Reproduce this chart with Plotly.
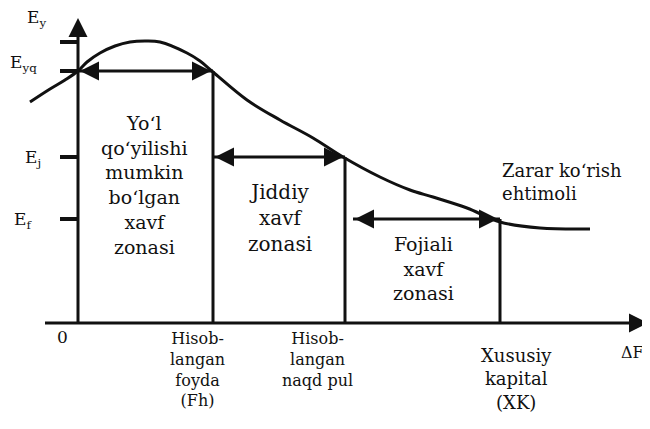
import plotly.graph_objects as go

# risk curve: x = capital change (dF), y = loss probability level
curve_x = [-48, -28, -13, 0, 9, 22, 37, 52, 67, 82, 109, 122, 135, 169, 202, 235,
           265, 302, 332, 355, 389, 422, 462, 512]
curve_y = [221, 234, 243, 252, 261, 270, 277, 281, 282, 281, 270, 262, 251, 223, 203,
           185, 166, 146, 133, 126, 115, 101, 95, 94]

# levels on the vertical axis
e_names = ["E<sub>y</sub>", "E<sub>yq</sub>", "E<sub>j</sub>", "E<sub>f</sub>"]
e_levels = [281, 252, 166, 104]

# points on the horizontal axis
f_points = [135, 267, 422]
f_labels = ["Hisob-<br>langan<br>foyda<br>(Fh)", "Hisob-<br>langan<br>naqd pul",
            "Xususiy<br>kapital<br>(XK)"]

zone_labels = ["Yo\u2018l<br>qo\u2018yilishi<br>mumkin<br>bo\u2018lgan<br>xavf<br>zonasi",
               "Jiddiy<br>xavf<br>zonasi",
               "Fojiali<br>xavf<br>zonasi"]

FONT = "DejaVu Serif"
BLACK = "#111111"

fig = go.Figure()

def seg(xs, ys, w=3):
    fig.add_trace(go.Scatter(x=xs, y=ys, mode="lines",
                             line=dict(color=BLACK, width=w), hoverinfo="skip"))

def heads(xs, ys, symbols):
    fig.add_trace(go.Scatter(x=xs, y=ys, mode="markers", hoverinfo="skip",
                             marker=dict(symbol=symbols, size=19, color=BLACK,
                                         line=dict(width=0))))

# the curve
fig.add_trace(go.Scatter(x=curve_x, y=curve_y, mode="lines", line_shape="spline",
                         line=dict(color=BLACK, width=3), hoverinfo="skip"))

# vertical lines from axis to curve
for fx, lvl in zip(f_points, e_levels[1:]):
    seg([fx, fx], [0, lvl])

# ticks on y axis
for lvl in e_levels:
    seg([-18, 0], [lvl, lvl], 4)

# axes
seg([0, 0], [0, 300])
seg([-33, 565], [0, 0])
heads([0], [305], ["arrow-up"])
heads([570], [0], ["arrow-right"])

# zone arrows (double headed)
starts = [0, f_points[0], 275]
for x0, x1, lvl in zip(starts, f_points, e_levels[1:]):
    seg([x0, x1], [lvl, lvl])
    heads([x0 + 2, x1 - 2], [lvl, lvl], ["arrow-left", "arrow-right"])

# level labels
for name, lvl, lx, dy in zip(e_names, e_levels, [-42, -55, -45, -55], [24, 8, -1, -1]):
    fig.add_annotation(x=lx, y=lvl + dy, text=name, showarrow=False,
                       font=dict(family=FONT, size=17, color=BLACK))

fig.add_annotation(x=-16, y=-14, text="0", showarrow=False,
                   font=dict(family=FONT, size=17, color=BLACK))
fig.add_annotation(x=568, y=-29, text="\u0394F", showarrow=False, xanchor="right",
                   font=dict(family=FONT, size=16, color=BLACK))

# bottom labels
for lab, lx, ly, fs in zip(f_labels, [119, 239, 438], [-46, -36, -56], [16, 16, 18]):
    fig.add_annotation(x=lx, y=ly, text=lab, showarrow=False,
                       font=dict(family=FONT, size=fs, color=BLACK))

# zone labels
for lab, lx, ly, fs in zip(zone_labels, [66, 202, 345], [138, 105, 55], [19, 20, 19]):
    fig.add_annotation(x=lx, y=ly, text=lab, showarrow=False,
                       font=dict(family=FONT, size=fs, color=BLACK))

fig.add_annotation(x=422, y=141, text="Zarar ko\u2018rish<br>ehtimoli", showarrow=False,
                   xanchor="left", align="left",
                   font=dict(family=FONT, size=18, color=BLACK))

# page body keeps an 8px margin, so the figure is 8px smaller than the window
fig.update_layout(
    width=642, height=421,
    margin=dict(l=0, r=0, t=0, b=0),
    paper_bgcolor="white", plot_bgcolor="white",
    showlegend=False,
    xaxis=dict(range=[-70, 572], visible=False, fixedrange=True),
    yaxis=dict(range=[-106, 315], visible=False, fixedrange=True),
)

fig.write_html("out.html")
